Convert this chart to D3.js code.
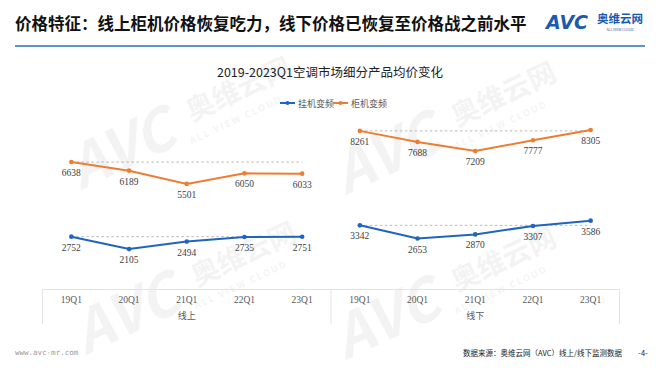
<!DOCTYPE html>
<html>
<head>
<meta charset="utf-8">
<script src="https://cdn.jsdelivr.net/npm/d3@7"></script>
<style>
  body { margin: 0; background: #fff; }
  text { font-family: "Noto Sans CJK SC", "Noto Sans", sans-serif; }
</style>
</head>
<body>
<div id="chart"></div>
<script>
// data
const channels = ["线上", "线下"];
const quarters = ["19Q1", "20Q1", "21Q1", "22Q1", "23Q1"];
const seriesNames = ["挂机变频", "柜机变频"];
const wallOnline = [2752, 2105, 2494, 2735, 2751];
const wallOffline = [3342, 2653, 2870, 3307, 3586];
const cabinetOnline = [6638, 6189, 5501, 6050, 6033];
const cabinetOffline = [8261, 7688, 7209, 7777, 8305];

const colors = {"挂机变频": "#1f64bd", "柜机变频": "#ed7d31"};

const W = 660, H = 372;
const svg = d3.select("#chart").append("svg")
    .attr("width", W)
    .attr("height", H);

// faint watermarks
[[135, 165], [400, 170], [140, 330], [400, 335]].forEach(([x, y]) => {
  const g = svg.append("g")
      .attr("transform", `translate(${x},${y}) rotate(-25)`)
      .attr("opacity", 0.05);
  g.append("text")
      .attr("x", -60).attr("y", 0)
      .style("font-size", "58px")
      .style("font-weight", "bold")
      .style("font-style", "italic")
      .attr("fill", "#333")
      .text("AVC");
  g.append("text")
      .attr("x", 70).attr("y", -15)
      .style("font-size", "28px")
      .style("font-weight", "bold")
      .attr("fill", "#333")
      .text("奥维云网");
  g.append("text")
      .attr("x", 60).attr("y", 5)
      .style("font-size", "9px")
      .style("font-weight", "bold")
      .style("letter-spacing", "2px")
      .attr("fill", "#333")
      .text("ALL VIEW CLOUD");
});

// page header
svg.append("text")
    .attr("x", 15).attr("y", 30)
    .style("font-size", "16.5px")
    .style("font-weight", "bold")
    .attr("fill", "#111")
    .text("价格特征：线上柜机价格恢复吃力，线下价格已恢复至价格战之前水平");

svg.append("line")
    .attr("x1", 15).attr("x2", 645)
    .attr("y1", 46).attr("y2", 46)
    .attr("stroke", "#2e6fb5")
    .attr("stroke-width", 1.5);

// logo
svg.append("text")
    .attr("x", 546).attr("y", 29)
    .style("font-size", "19px")
    .style("font-weight", "bold")
    .style("font-style", "italic")
    .style("font-family", "DejaVu Sans")
    .attr("fill", "#1a5bb0")
    .text("AVC");
svg.append("text")
    .attr("x", 597).attr("y", 23)
    .style("font-size", "11.5px")
    .style("font-weight", "bold")
    .attr("fill", "#1a5bb0")
    .text("奥维云网");
svg.append("text")
    .attr("x", 620).attr("y", 31)
    .attr("text-anchor", "middle")
    .style("font-size", "3.5px")
    .attr("fill", "#1a5bb0")
    .text("ALL VIEW CLOUD");

// chart title
svg.append("text")
    .attr("x", 330).attr("y", 77)
    .attr("text-anchor", "middle")
    .style("font-size", "12.5px")
    .attr("fill", "#222")
    .text("2019-2023Q1空调市场细分产品均价变化");

// legend
const legend = svg.append("g").attr("transform", "translate(280,103)");
seriesNames.forEach((name, i) => {
  const lg = legend.append("g").attr("transform", `translate(${i * 53},0)`);
  lg.append("line")
      .attr("x1", 0).attr("x2", 15)
      .attr("stroke", colors[name]).attr("stroke-width", 2);
  lg.append("circle")
      .attr("cx", 7.5).attr("r", 2).attr("fill", colors[name]);
  lg.append("text")
      .attr("x", 18).attr("y", 4)
      .style("font-size", "9px")
      .attr("fill", "#595959")
      .text(name);
});

// scales
const keys = [];
channels.forEach(c => quarters.forEach(q => keys.push(c + "|" + q)));

const x = d3.scaleBand()
    .domain(keys)
    .range([42.5, 619.5]);

const y = d3.scaleLinear()
    .domain([0, 10000])
    .range([289.5, 97.5]);

// category axis box
const axisG = svg.append("g").attr("class", "x-axis");
axisG.append("line")
    .attr("x1", x.range()[0]).attr("x2", x.range()[1])
    .attr("y1", y(0)).attr("y2", y(0))
    .attr("stroke", "#e3e3e3");
const groupEdges = [x(keys[0]), x(keys[5]), x.range()[1]];
groupEdges.forEach(gx => {
  axisG.append("line")
      .attr("x1", gx).attr("x2", gx)
      .attr("y1", y(0)).attr("y2", 324)
      .attr("stroke", "#e3e3e3");
});

axisG.selectAll(".qlabel")
    .data(keys)
    .enter()
    .append("text")
    .attr("class", "qlabel")
    .attr("x", d => x(d) + x.bandwidth() / 2)
    .attr("y", 303)
    .attr("text-anchor", "middle")
    .style("font-family", "Liberation Serif")
    .style("font-size", "9.5px")
    .attr("fill", "#595959")
    .text(d => d.split("|")[1]);

channels.forEach((c, i) => {
  axisG.append("text")
      .attr("x", (groupEdges[i] + groupEdges[i + 1]) / 2)
      .attr("y", 319)
      .attr("text-anchor", "middle")
      .style("font-size", "9px")
      .attr("fill", "#595959")
      .text(c);
});

// series per panel
const panels = [
  {name: "挂机变频", channel: "线上", values: wallOnline},
  {name: "挂机变频", channel: "线下", values: wallOffline},
  {name: "柜机变频", channel: "线上", values: cabinetOnline},
  {name: "柜机变频", channel: "线下", values: cabinetOffline}
];

const cx = (ch, q) => x(ch + "|" + q) + x.bandwidth() / 2;

const line = d3.line()
    .x(d => cx(d.channel, d.q))
    .y(d => y(d.v));

panels.forEach(p => {
  const pts = p.values.map((v, i) => ({channel: p.channel, q: quarters[i], v: v}));

  // reference dashed line at first value
  svg.append("line")
      .attr("x1", cx(p.channel, quarters[0]))
      .attr("x2", cx(p.channel, quarters[quarters.length - 1]))
      .attr("y1", y(p.values[0]))
      .attr("y2", y(p.values[0]))
      .attr("stroke", "#a6a6a6")
      .attr("stroke-width", 0.8)
      .attr("stroke-dasharray", "2.5,2.5");

  svg.append("path")
      .datum(pts)
      .attr("fill", "none")
      .attr("stroke", colors[p.name])
      .attr("stroke-width", 2)
      .attr("d", line);

  svg.selectAll(null)
      .data(pts)
      .enter()
      .append("circle")
      .attr("cx", d => cx(d.channel, d.q))
      .attr("cy", d => y(d.v))
      .attr("r", 2.3)
      .attr("fill", colors[p.name]);

  svg.selectAll(null)
      .data(pts)
      .enter()
      .append("text")
      .attr("x", d => cx(d.channel, d.q))
      .attr("y", d => y(d.v) + 14)
      .attr("text-anchor", "middle")
      .style("font-family", "Liberation Serif")
      .style("font-size", "9.5px")
      .attr("fill", "#404040")
      .text(d => d.v);
});

// footer
svg.append("text")
    .attr("x", 15).attr("y", 355)
    .style("font-family", "DejaVu Sans Mono")
    .style("font-size", "7.5px")
    .attr("fill", "#9a9a9a")
    .text("www.avc-mr.com");
svg.append("text")
    .attr("x", 622).attr("y", 356)
    .attr("text-anchor", "end")
    .style("font-size", "7.5px")
    .attr("fill", "#222")
    .text("数据来源：奥维云网（AVC）线上/线下监测数据");
svg.append("text")
    .attr("x", 643).attr("y", 356)
    .attr("text-anchor", "middle")
    .style("font-size", "7.5px")
    .attr("fill", "#222")
    .text("-4-");
</script>
</body>
</html>
